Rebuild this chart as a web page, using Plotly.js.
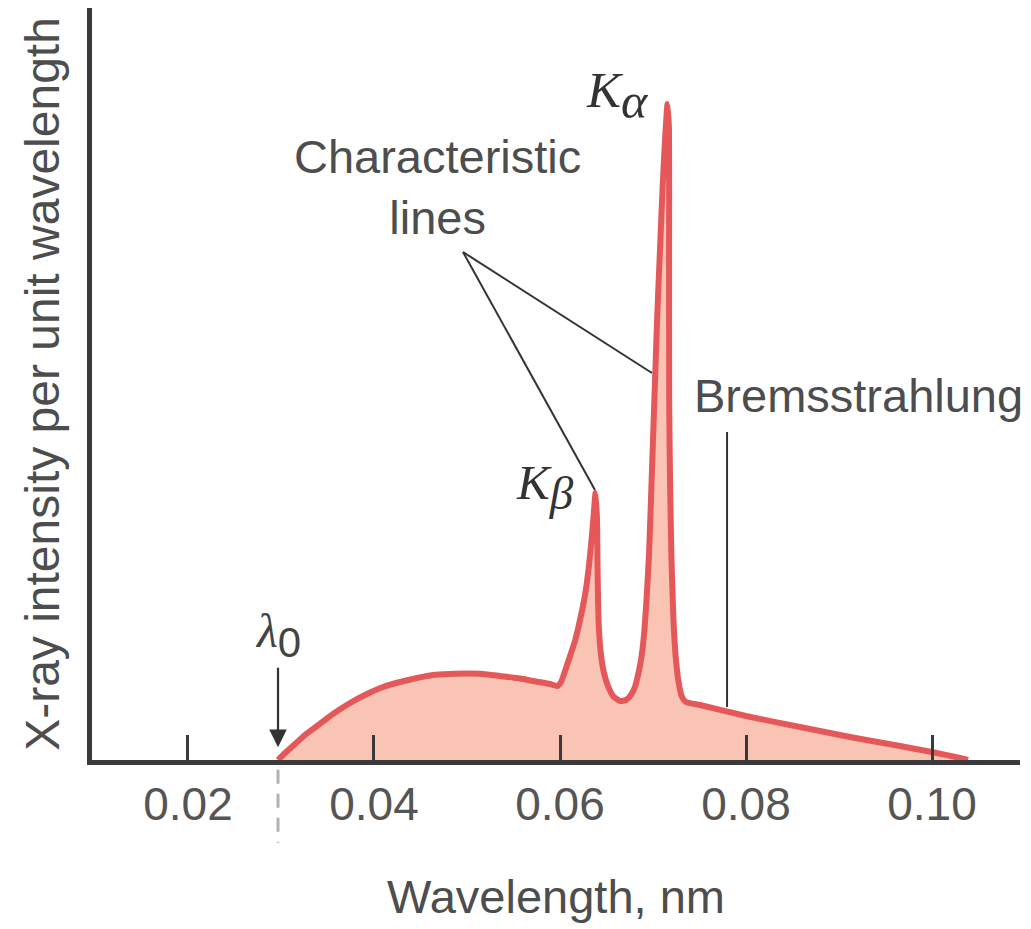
<!DOCTYPE html>
<html>
<head>
<meta charset="utf-8">
<script src="https://cdn.plot.ly/plotly-3.0.1.min.js"></script>
<style>html,body{margin:0;padding:0;background:#fff;}#chart{width:1031px;height:929px;}</style>
</head>
<body>
<div id="chart"></div>
<script>
// Wavelength (nm) and intensity (arbitrary units)
const wavelength = [
  0.02968, 0.03043, 0.03151, 0.03258, 0.03387, 0.03559, 0.03742, 0.03925, 0.04097, 0.04280,
  0.04462, 0.04634, 0.04817, 0.05000, 0.05172, 0.05355, 0.05538, 0.05710, 0.05892, 0.05968,
  0.06011, 0.06054, 0.06108, 0.06161, 0.06215, 0.06269, 0.06312, 0.06344, 0.06366, 0.06382,
  0.06398, 0.06403, 0.06409, 0.06419, 0.06441, 0.06473, 0.06516, 0.06570, 0.06645,
  0.06710, 0.06763, 0.06806, 0.06839, 0.06871, 0.06903, 0.06930, 0.06957, 0.06978, 0.07000,
  0.07022, 0.07048, 0.07075, 0.07102, 0.07129, 0.07156,
  0.07172, 0.07173, 0.07174, 0.07183, 0.07199, 0.07220, 0.07247, 0.07280, 0.07312, 0.07355,
  0.07505, 0.08000, 0.08581, 0.09118, 0.09656, 0.10000, 0.10301, 0.10387
];
const intensity = [
  0, 0.93, 2.13, 3.32, 4.52, 6.12, 7.58, 8.78, 9.71, 10.37,
  10.90, 11.30, 11.44, 11.50, 11.44, 11.17, 10.90, 10.51, 10.11, 9.84,
  10.37, 11.84, 13.83, 15.82, 18.62, 21.94, 25.93, 29.92, 33.24, 35.51,
  31.91, 26.60, 21.28, 17.29, 13.96, 11.57, 9.84, 8.51, 7.85,
  7.98, 8.64, 9.71, 11.30, 13.30, 16.62, 21.28, 27.26, 34.57, 42.55,
  50.53, 59.84, 67.82, 75.80, 82.45, 87.23,
  83.78, 67.82, 47.87, 37.23, 26.60, 18.62, 13.30, 9.97, 8.38, 7.71,
  7.31, 5.85, 4.39, 3.06, 1.86, 1.06, 0.27, 0
];
const tickValues = [0.02, 0.04, 0.06, 0.08, 0.10];
const tickLabels = ['0.02', '0.04', '0.06', '0.08', '0.10'];

const lambda0 = wavelength[0];
const sans = 'Liberation Sans, Arial, sans-serif';
const serif = 'Liberation Serif, Times New Roman, serif';
const textColor = '#4d4d4d';
const inkColor = '#333333';

const trace = {
  x: wavelength,
  y: intensity,
  type: 'scatter',
  mode: 'lines',
  line: {color: '#e5585a', width: 6, shape: 'spline', smoothing: 0.5},
  fill: 'tozeroy',
  fillcolor: '#f9c4b4',
  hoverinfo: 'skip'
};

const layout = {
  width: 1031,
  height: 929,
  margin: {l: 92, r: 11, t: 8, b: 169},
  paper_bgcolor: '#ffffff',
  plot_bgcolor: '#ffffff',
  showlegend: false,
  xaxis: {
    range: [0.00968, 0.10946],
    showline: true, linecolor: '#3a3a3a', linewidth: 5,
    ticks: 'inside', ticklen: 25, tickwidth: 3, tickcolor: '#3a3a3a',
    tickvals: tickValues, ticktext: tickLabels,
    tickfont: {family: sans, size: 46, color: '#555555'},
    showgrid: false, zeroline: false, automargin: false,
    title: {text: 'Wavelength, nm', font: {family: sans, size: 47, color: textColor}, standoff: 52}
  },
  yaxis: {
    range: [0, 100],
    showline: true, linecolor: '#3a3a3a', linewidth: 5,
    ticks: '', showticklabels: false,
    showgrid: false, zeroline: false, automargin: false,
    title: {text: 'X-ray intensity per unit wavelength', font: {family: sans, size: 48, color: textColor}, standoff: 14}
  },
  shapes: [
    {type: 'line', xref: 'x', yref: 'paper', x0: lambda0, x1: lambda0, y0: -0.013, y1: -0.11,
     line: {color: '#b3b3b3', width: 3, dash: '14px,10px'}},
    {type: 'line', xref: 'x', yref: 'y', x0: 0.04957, y0: 67.55, x1: 0.06989, y1: 51.46,
     line: {color: inkColor, width: 2}},
    {type: 'line', xref: 'x', yref: 'y', x0: 0.04957, y0: 67.55, x1: 0.06376, y1: 35.90,
     line: {color: inkColor, width: 2}},
    {type: 'line', xref: 'x', yref: 'y', x0: 0.07796, y0: 43.62, x1: 0.07796, y1: 7.05,
     line: {color: inkColor, width: 2}}
  ],
  annotations: [
    {xref: 'paper', yref: 'paper', x: 0.3718, y: (760 - 187) / 752, xanchor: 'center', yanchor: 'middle',
     text: 'Characteristic<br>lines', showarrow: false, align: 'center',
     font: {family: sans, size: 47, color: textColor}},
    {xref: 'paper', yref: 'paper', x: (692 - 92) / 928, y: (760 - 395) / 752, xanchor: 'left', yanchor: 'middle',
     text: 'Bremsstrahlung', showarrow: false,
     font: {family: sans, size: 47, color: textColor}},
    {xref: 'paper', yref: 'paper', x: (617 - 92) / 928, y: (760 - 95) / 752, xanchor: 'center', yanchor: 'middle',
     text: '<i>K</i><sub><span style="font-size:50px"><i>α</i></span></sub>', showarrow: false,
     font: {family: serif, size: 51, color: '#333333'}},
    {xref: 'paper', yref: 'paper', x: (545 - 92) / 928, y: (760 - 487) / 752, xanchor: 'center', yanchor: 'middle',
     text: '<i>K</i><sub><span style="font-size:47px"><i>β</i></span></sub>', showarrow: false,
     font: {family: serif, size: 49, color: '#333333'}},
    {xref: 'x', yref: 'y', x: lambda0, y: 1.7, ax: 0, ay: -112, axref: 'pixel', ayref: 'pixel',
     text: '<i>λ</i><sub><span style="font-family:Liberation Sans;font-size:42px">0</span></sub>',
     showarrow: true, arrowhead: 2, arrowsize: 1.6, arrowwidth: 2.2, arrowcolor: inkColor, standoff: 0,
     font: {family: serif, size: 48, color: '#444444'}}
  ]
};

Plotly.newPlot('chart', [trace], layout, {displayModeBar: false, staticPlot: true});
</script>
</body>
</html>
